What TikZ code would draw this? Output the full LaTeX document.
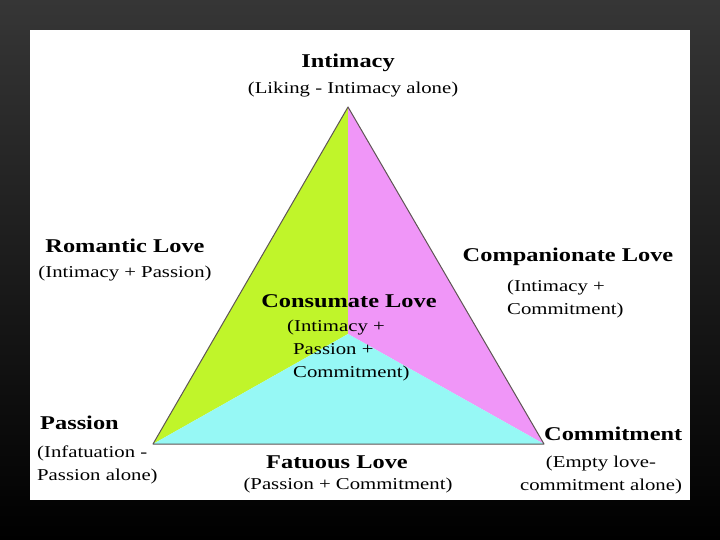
\documentclass[tikz,border=0pt]{standalone}
\usepackage{fontspec}
\setmainfont{Liberation Serif}[FakeStretch=1.25]
\usepackage{xcolor}
\usetikzlibrary{positioning}
\usetikzlibrary{calc}

\definecolor{bgtop}{RGB}{54,54,54}
\definecolor{romgreen}{RGB}{192,245,42}
\definecolor{compink}{RGB}{240,150,248}
\definecolor{fatcyan}{RGB}{150,248,245}
\definecolor{edgegray}{RGB}{95,85,85}

\tikzset{
  mainlabel/.style={font=\fontsize{19.5}{22}\selectfont\bfseries, inner sep=0pt},
  sublabel/.style={font=\fontsize{16.6}{23}\selectfont, inner sep=0pt},
}

\begin{document}
\begin{tikzpicture}[x=1pt,y=-1pt]
\useasboundingbox (0,0) rectangle (720,540);
\shade[top color=bgtop, bottom color=black] (0,0) rectangle (720,540);
\fill[white] (30,30) rectangle (690,500);
% corners of the triangle
\coordinate (I) at (348,107);
\coordinate (P) at (153,444);
\coordinate (C) at (544,444);
\coordinate (M) at (348,334);
\fill[romgreen] (I) -- (M) -- (P) -- cycle;
\fill[compink] (I) -- (C) -- (M) -- cycle;
\fill[fatcyan] (P) -- (M) -- (C) -- cycle;
%\draw[olive!60, line width=0.4pt] (P) -- (M) -- (C);
\draw[edgegray, line width=1pt, line join=round] (I) -- (P) -- (C) -- cycle;
% labels
\node[mainlabel] (intimacy) at (348,63) {Intimacy};
\node[sublabel] (liking) at (353,90) {(Liking - Intimacy alone)};
\node[mainlabel] (romantic) at (125,246) {Romantic Love};
\node[sublabel] (romsub) at (125,274) {(Intimacy + Passion)};
\node[mainlabel] (companion) at (568,257) {Companionate Love};
\node[sublabel, anchor=west, align=left] (compsub) at (507,299) {(Intimacy +\\Commitment)};
\node[mainlabel] (consum) at (349,301) {Consumate Love};
\node[sublabel, anchor=west, align=left] (conssub) at (287,351) {(Intimacy +\\\hspace*{6pt}Passion +\\\hspace*{6pt}Commitment)};
\node[mainlabel, anchor=west] (passion) at (40,423) {Passion};
\node[sublabel, anchor=west, align=left] (passub) at (37,465) {(Infatuation -\\Passion alone)};
\node[mainlabel, anchor=west] (commit) at (544,434) {Commitment};
\node[sublabel, align=center] (comsub) at (601,475) {(Empty love-\\commitment alone)};
\node[mainlabel] (fatuous) at (337,462) {Fatuous Love};
\node[sublabel] (fatsub) at (348,486) {(Passion + Commitment)};
\end{tikzpicture}
\end{document}
